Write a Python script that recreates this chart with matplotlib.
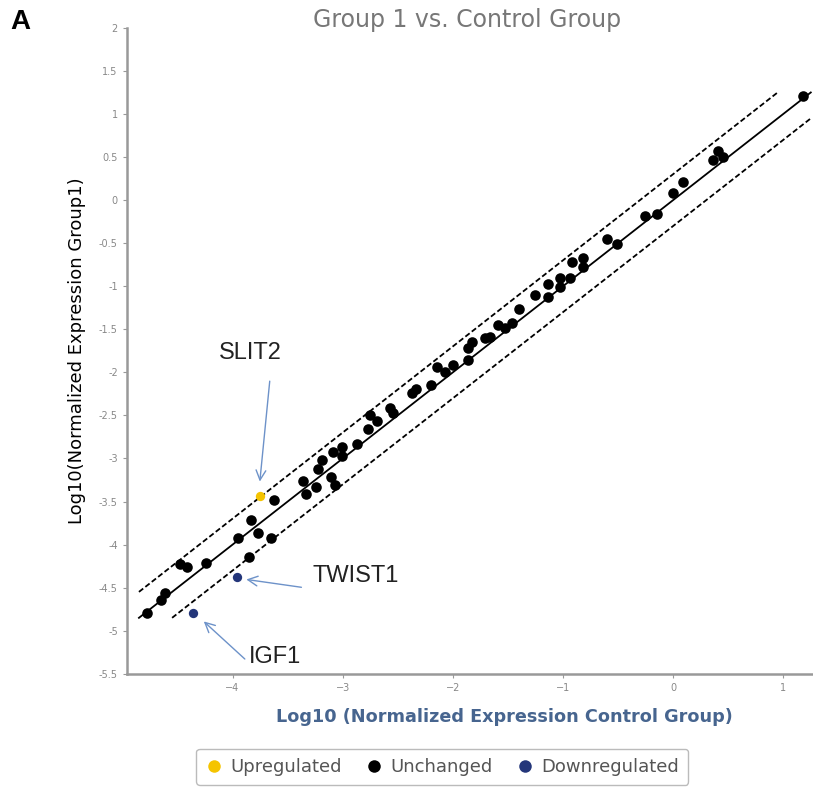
import numpy as np
import matplotlib
matplotlib.use("Agg")
import matplotlib.pyplot as plt
from matplotlib.lines import Line2D

# log10 normalized expression: control group (x) vs group 1 (y)
unch_x = [-4.78, -4.65, -4.61, -4.48, -4.41, -4.245, -3.95, -3.85, -3.836, -3.77,
          -3.65, -3.627, -3.36, -3.33, -3.245, -3.22, -3.19, -3.11, -3.07, -3.09,
          -3.01, -3.01, -2.87, -2.77, -2.75, -2.69, -2.57, -2.545, -2.37, -2.33,
          -2.2, -2.14, -2.07, -2.0, -1.86, -1.86, -1.83, -1.71, -1.66, -1.59,
          -1.53, -1.46, -1.40, -1.255, -1.14, -1.14, -1.03, -1.03, -0.94, -0.92,
          -0.82, -0.82, -0.60, -0.51, -0.255, -0.15, 0.0, 0.09, 0.36, 0.41,
          0.45, 1.18]
unch_y = [-4.79, -4.64, -4.56, -4.23, -4.26, -4.21, -3.92, -4.14, -3.71, -3.87,
          -3.92, -3.48, -3.26, -3.41, -3.33, -3.12, -3.02, -3.22, -3.31, -2.93,
          -2.87, -2.97, -2.83, -2.66, -2.50, -2.56, -2.41, -2.47, -2.24, -2.19,
          -2.15, -1.94, -2.0, -1.92, -1.86, -1.72, -1.65, -1.60, -1.59, -1.45,
          -1.48, -1.43, -1.27, -1.10, -1.13, -0.97, -1.01, -0.90, -0.91, -0.72,
          -0.67, -0.78, -0.45, -0.51, -0.19, -0.16, 0.08, 0.21, 0.46, 0.57,
          0.50, 1.21]

up_genes = ["SLIT2"]
up_x = [-3.755]
up_y = [-3.43]

down_genes = ["TWIST1", "IGF1"]
down_x = [-3.96, -4.36]
down_y = [-4.38, -4.79]

fold = np.log10(2)          # boundary lines (2-fold)
line_lo, line_hi = -4.85, 1.25

yellow = "#f5c400"
navy = "#24367a"
arrow_c = "#6d92c9"

fig = plt.figure(figsize=(8.13, 7.89), dpi=100)
ax = fig.add_axes([0.156, 0.146, 0.844, 0.8187])

# y = x and +/- fold change lines
ax.plot([line_lo, line_hi], [line_lo, line_hi], color="k", lw=1.3, zorder=1)
ax.plot([line_lo, line_hi - fold], [line_lo + fold, line_hi], color="k", lw=1.3,
        ls=(0, (3, 1.5)), zorder=1)
ax.plot([line_lo + fold, line_hi], [line_lo, line_hi - fold], color="k", lw=1.3,
        ls=(0, (3, 1.5)), zorder=1)

ax.scatter(unch_x, unch_y, s=58, color="k", zorder=3, linewidths=0)
ax.scatter(up_x, up_y, s=45, color=yellow, zorder=3, linewidths=0)
ax.scatter(down_x, down_y, s=45, color=navy, zorder=3, linewidths=0)

ax.set_xlim(-4.96, 1.27)
ax.set_ylim(-5.5, 2)
ax.set_xticks([-4, -3, -2, -1, 0, 1])
ax.set_yticks(np.arange(-5.5, 2.01, 0.5))
ax.set_yticklabels(["%g" % v for v in np.arange(-5.5, 2.01, 0.5)])
ax.tick_params(colors="#999999", labelcolor="#888888", labelsize=7, length=3, width=0.8)
for s in ["top", "right"]:
    ax.spines[s].set_visible(False)
for s in ["left", "bottom"]:
    ax.spines[s].set_color("#999999")
    ax.spines[s].set_linewidth(1.8)

ax.set_xlabel("Log10 (Normalized Expression Control Group)", fontsize=12.7,
              fontweight="bold", color="#47658f")
ax.xaxis.set_label_coords(0.55, -0.053)
ax.set_ylabel("Log10(Normalized Expression Group1)", fontsize=13,
              labelpad=9)
fig.text(0.575, 0.975, "Group 1 vs. Control Group", ha="center", va="center",
         fontsize=17, color="#777777")
fig.text(0.013, 0.972, "A", ha="left", va="center", fontsize=20,
         fontweight="bold", family="Liberation Sans")

# gene call-outs
ap = dict(arrowstyle="->,head_length=0.7,head_width=0.35", color=arrow_c, lw=1.0)
lab = dict(fontsize=17, family="Liberation Sans", color="#222222", va="center")
ax.text(-3.836, -1.77, up_genes[0], ha="center", **lab)
ax.annotate("", xy=(up_x[0], up_y[0] + 0.13), xytext=(-3.66, -2.07), arrowprops=ap)
ax.text(-3.27, -4.36, down_genes[0], ha="left", **lab)
ax.annotate("", xy=(down_x[0] + 0.06, down_y[0] - 0.02), xytext=(-3.35, -4.5),
            arrowprops=ap)
ax.text(-3.85, -5.3, down_genes[1], ha="left", **lab)
ax.annotate("", xy=(down_x[1] + 0.08, down_y[1] - 0.08), xytext=(-3.87, -5.35),
            arrowprops=ap)

handles = [Line2D([], [], ls="", marker="o", ms=9, mec="none", mfc=c)
           for c in (yellow, "k", navy)]
leg = fig.legend(handles, ["Upregulated", "Unchanged", "Downregulated"],
                 loc="center", bbox_to_anchor=(0.544, 0.028), ncol=3,
                 frameon=True, fancybox=True, edgecolor="#aaaaaa",
                 fontsize=13, handletextpad=0.4, columnspacing=1.3,
                 borderpad=0.5, handlelength=1.0)
for t in leg.get_texts():
    t.set_color("#555555")

fig.savefig("out.png", dpi=100)
